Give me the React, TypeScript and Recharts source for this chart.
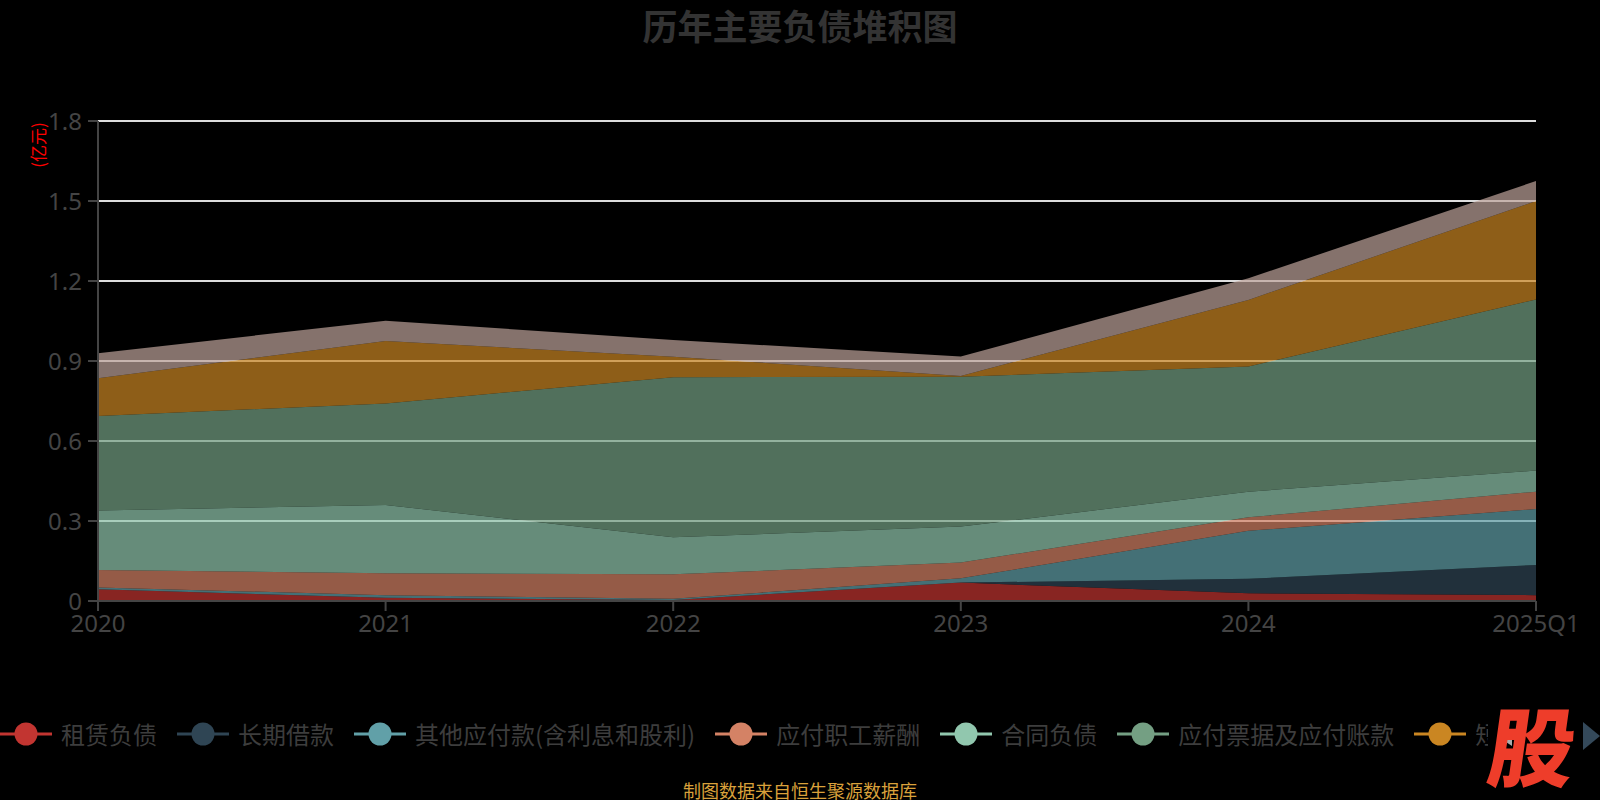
import React from "react";
import { AreaChart, Area, XAxis, YAxis, CartesianGrid } from "recharts";

// categories and stacked series (亿元), bottom layer first
const years = ["2020", "2021", "2022", "2023", "2024", "2025Q1"];
const leaseLiab = [0.044, 0.012, 0.004, 0.069, 0.029, 0.022];
const longLoans = [0, 0, 0, 0, 0.054, 0.113];
const otherPayables = [0.007, 0.01, 0.004, 0.016, 0.18, 0.21];
const staffPay = [0.065, 0.082, 0.092, 0.059, 0.051, 0.065];
const contractLiab = [0.223, 0.256, 0.139, 0.135, 0.096, 0.079];
const notesPayable = [0.355, 0.381, 0.6, 0.562, 0.469, 0.642];
const shortLoans = [0.141, 0.234, 0.077, 0.003, 0.25, 0.369];
const taxPayable = [0.094, 0.076, 0.063, 0.073, 0.081, 0.075];

const yTicks = [0, 0.3, 0.6, 0.9, 1.2, 1.5, 1.8];

const series = [
  { key: "租赁负债", values: leaseLiab, color: "#c23531" },
  { key: "长期借款", values: longLoans, color: "#2f4554" },
  { key: "其他应付款(含利息和股利)", values: otherPayables, color: "#61a0a8" },
  { key: "应付职工薪酬", values: staffPay, color: "#d48265" },
  { key: "合同负债", values: contractLiab, color: "#91c7ae" },
  { key: "应付票据及应付账款", values: notesPayable, color: "#749f83" },
  { key: "短期借款", values: shortLoans, color: "#ca8622" },
  { key: "应交税费", values: taxPayable, color: "#bda29a" },
];

const data = years.map((year, i) => {
  const row: Record<string, string | number> = { year };
  series.forEach((s) => {
    row[s.key] = s.values[i];
  });
  return row;
});

const FONT = "'Noto Sans', 'Noto Sans CJK SC', sans-serif";
const CJK = "'Noto Sans CJK SC', 'Noto Sans', sans-serif";

// scroll-style legend, clipped before the page arrows
function LegendRow() {
  return (
    <div
      style={{
        position: "absolute",
        left: 0,
        top: 716,
        width: 1488,
        height: 36,
        overflow: "hidden",
        display: "flex",
        alignItems: "center",
        whiteSpace: "nowrap",
      }}
    >
      {series.map((s) => (
        <div
          key={s.key}
          style={{ display: "flex", alignItems: "center", marginRight: 20, flexShrink: 0 }}
        >
          <svg width={52} height={26} style={{ marginRight: 9 }}>
            <line x1={0} y1={13} x2={52} y2={13} stroke={s.color} strokeWidth={3} />
            <circle cx={26} cy={13} r={11.5} fill={s.color} />
          </svg>
          <span style={{ fontFamily: CJK, fontSize: 24, color: "#3d3d3d", lineHeight: "26px" }}>
            {s.key}
          </span>
        </div>
      ))}
    </div>
  );
}

export default function App() {
  return (
    <div
      style={{
        position: "fixed",
        left: 0,
        top: 0,
        width: 1600,
        height: 800,
        background: "#000",
        overflow: "hidden",
      }}
    >
      <div
        style={{
          position: "absolute",
          left: 0,
          top: 7,
          width: 1600,
          textAlign: "center",
          fontFamily: CJK,
          fontWeight: 700,
          fontSize: 35,
          lineHeight: "36px",
          color: "#333",
        }}
      >
        历年主要负债堆积图
      </div>
      <div
        style={{
          position: "absolute",
          left: 37,
          top: 145,
          transform: "translate(-50%, -50%) rotate(-90deg)",
          fontFamily: CJK,
          fontSize: 17,
          color: "#ff0000",
          whiteSpace: "nowrap",
        }}
      >
        (亿元)
      </div>
      <AreaChart
        width={1600}
        height={800}
        data={data}
        margin={{ top: 121, right: 64, bottom: 159, left: 38 }}
      >
        <CartesianGrid vertical={false} stroke="#dddddd" strokeWidth={2} />
        <XAxis
          dataKey="year"
          height={40}
          tick={{ fill: "#444", fontSize: 24, fontFamily: FONT }}
          tickLine={{ stroke: "#444", strokeWidth: 2 }}
          axisLine={{ stroke: "#444", strokeWidth: 2 }}
          tickSize={10}
          tickMargin={4}
          interval={0}
        />
        <YAxis
          width={60}
          domain={[0, 1.8]}
          ticks={yTicks}
          tickFormatter={(v) => String(v)}
          tick={{ fill: "#444", fontSize: 24, fontFamily: FONT }}
          tickLine={{ stroke: "#444", strokeWidth: 2 }}
          axisLine={{ stroke: "#444", strokeWidth: 2 }}
          tickSize={10}
          tickMargin={6}
          interval={0}
        />
        {series.map((s) => (
          <Area
            key={s.key}
            type="linear"
            dataKey={s.key}
            stackId="total"
            stroke="none"
            fill={s.color}
            fillOpacity={0.7}
            dot={false}
            activeDot={false}
            isAnimationActive={false}
          />
        ))}
      </AreaChart>
      <LegendRow />
      <svg width={40} height={40} style={{ position: "absolute", left: 1496, top: 718 }}>
        <polygon points="16,12 4,20 16,28" fill="#aaa" />
      </svg>
      <div
        style={{
          position: "absolute",
          left: 1490,
          top: 698,
          fontFamily: CJK,
          fontWeight: 900,
          fontSize: 86,
          lineHeight: "90px",
          color: "#ee3d2a",
          transform: "skewX(-8deg)",
        }}
      >
        股
      </div>
      <svg width={20} height={40} style={{ position: "absolute", left: 1583, top: 716 }}>
        <polygon points="0,6 17,20 0,34" fill="#34495a" />
      </svg>
      <div
        style={{
          position: "absolute",
          left: 0,
          top: 779,
          width: 1600,
          textAlign: "center",
          fontFamily: CJK,
          fontSize: 18,
          lineHeight: "22px",
          color: "#d9a13b",
        }}
      >
        制图数据来自恒生聚源数据库
      </div>
    </div>
  );
}
